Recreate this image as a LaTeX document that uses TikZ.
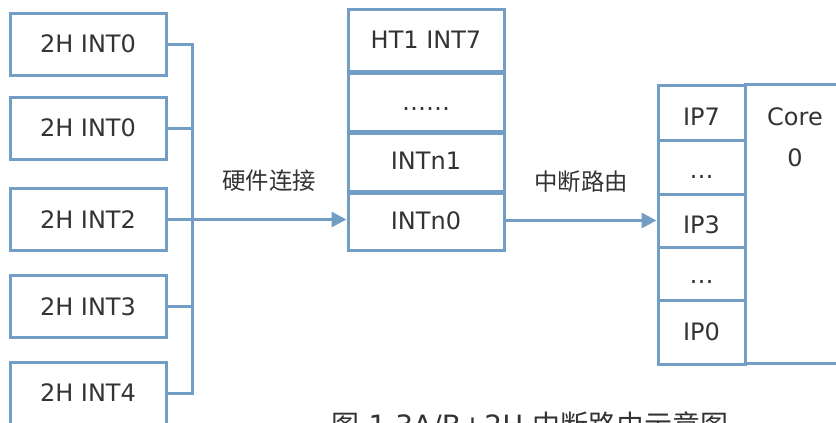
\documentclass[tikz,border=0pt]{standalone}
\usepackage{fontspec}
\setmainfont{DejaVu Sans}
\newfontfamily\cjk{Noto Sans CJK SC}
\usetikzlibrary{arrows.meta}
\definecolor{linkblue}{RGB}{114,157,197}
\definecolor{ink}{RGB}{51,51,51}

\begin{document}
\begin{tikzpicture}[x=0.5pt,y=-0.5pt,
  every node/.style={text=ink,font=\fontsize{12}{14}\selectfont,inner sep=0pt},
  cell/.style={draw=linkblue,line width=1.5pt,text height=8.75pt,text depth=0pt,align=center},
  src/.style={cell,minimum width=78pt,minimum height=31pt},
  mid/.style={cell,minimum width=78pt},
  ipcell/.style={cell,minimum width=43.5pt},
  wire/.style={draw=linkblue,line width=1.5pt},
  arr/.style={wire,-{Triangle[length=7.5pt,width=7.5pt]}},
  sepline/.style={draw=linkblue,line width=2.2pt},
  cjklabel/.style={font=\cjk\fontsize{11.7}{14}\selectfont}]

\useasboundingbox (0,0) rectangle (836,423);
\clip (0,0) rectangle (836,423);

% interrupt sources
\node[src] (s1) at (88,44)    {2H INT0};
\node[src] (s2) at (88,128)   {2H INT0};
\node[src] (s3) at (88,219.5) {2H INT2};
\node[src] (s4) at (88,306.5) {2H INT3};
\node[src] (s5) at (88,393)   {2H INT4};

% interrupt vector stack
\node[mid,minimum height=31pt]   (m1) at (426,40)    {HT1 INT7};
\node[mid,minimum height=30pt,text height=9.5pt] (m2) at (426,101) {……};
\node[mid,minimum height=30pt]   (m3) at (426,161)   {INTn1};
\node[mid,minimum height=29.5pt] (m4) at (426,220.5) {INTn0};
\foreach \c in {m1,m2,m3}
  \draw[sepline] (\c.south west) -- (\c.south east);

% core interrupt pins
\node[ipcell,minimum height=27.5pt,text height=13.25pt] (p7) at (701.5,112.5) {IP7};
\node[ipcell,minimum height=27pt,text height=11pt]      (p6) at (701.5,167)   {…};
\node[ipcell,minimum height=26.5pt,text height=13.25pt] (p3) at (701.5,220.5) {IP3};
\node[ipcell,minimum height=26.5pt,text height=9.5pt]   (p2) at (701.5,273.5) {…};
\node[ipcell,minimum height=32pt]                       (p0) at (701.5,332)   {IP0};

% core
\node[draw=linkblue,line width=1.5pt,minimum width=50pt,minimum height=139.5pt] (core) at (795,223.5) {};
\node[text height=8.75pt,text depth=0pt] (corename) at (795,117) {Core};
\node[text height=8.75pt,text depth=0pt] (coreid) at (795,158) {0};

% hardware wiring bus
\coordinate (bus) at (192,0);
\draw[wire] (s1.east) -- (s1.east -| bus) -- (s5.east -| bus) -- (s5.east);
\draw[wire] (s2.east) -- (s2.east -| bus);
\draw[wire] (s4.east) -- (s4.east -| bus);
\draw[arr] (s3.east) -- (s3.east -| m4.west);
\draw[arr] (m4.east) -- (m4.east -| p3.west);

\node[cjklabel] (hwlink) at (269,181) {硬件连接};
\node[cjklabel] (route) at (581,182) {中断路由};

% figure caption
\node[anchor=base,font=\fontsize{14}{16}\selectfont] (caption) at (530,435)
  {{\cjk 图} 1.3A/B+2H {\cjk 中断路由示意图}};
\end{tikzpicture}
\end{document}
